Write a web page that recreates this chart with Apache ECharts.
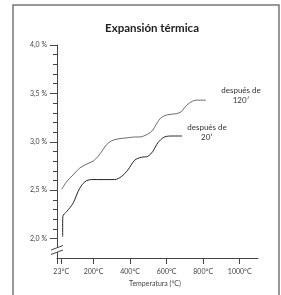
<!DOCTYPE html>
<html>
<head>
<meta charset="utf-8">
<script src="https://cdn.jsdelivr.net/npm/echarts@6/dist/echarts.min.js"></script>
<style>
  html, body { margin: 0; padding: 0; background: #fff; }
  #chart { width: 281px; height: 295px; }
</style>
</head>
<body>
<div id="chart"></div>
<script>
// temperatura (°C) / expansión (%)
const after120Temp = [26, 53, 89, 125, 162, 198, 225, 252, 271, 298, 334, 380, 425, 452, 497, 524, 543, 570, 606, 652, 679, 697, 724, 761, 815]
const after120Val = [2.51, 2.59, 2.66, 2.73, 2.77, 2.80, 2.85, 2.92, 2.97, 3.01, 3.03, 3.04, 3.05, 3.05, 3.08, 3.12, 3.18, 3.25, 3.28, 3.29, 3.31, 3.35, 3.40, 3.43, 3.43]
const after20Temp = [31, 31, 32, 53, 71, 89, 103, 116, 131, 143, 163, 189, 252, 316, 352, 388, 425, 461, 497, 524, 552, 588, 633, 684]
const after20Val = [2.02, 2.13, 2.23, 2.28, 2.32, 2.37, 2.43, 2.49, 2.54, 2.57, 2.60, 2.61, 2.61, 2.61, 2.64, 2.71, 2.81, 2.84, 2.85, 2.90, 2.99, 3.05, 3.06, 3.06]

const yMajor = [2.0, 2.5, 3.0, 3.5, 4.0]
const yMinor = [2.1, 2.2, 2.3, 2.4, 2.6, 2.7, 2.8, 2.9, 3.1, 3.2, 3.3, 3.4, 3.6, 3.7, 3.8, 3.9]
const xTicks = [0, 23, 200, 400, 600, 800, 1000]
const xLabels = [23, 200, 400, 600, 800, 1000]

const font = 'Lato'
const axisColor = '#444'

let chart = echarts.init(document.getElementById('chart'))

const zip = (a, b) => a.map((v, i) => [v, b[i]])

const option = {
    animation: false,
    title: {
        text: 'Expansión térmica',
        left: 147,
        top: 17,
        textAlign: 'center',
        textStyle: { fontFamily: font, fontSize: 11.5, fontWeight: 'bold', color: '#222' }
    },
    grid: { left: 57, top: 45, width: 201, height: 213 },
    xAxis: {
        type: 'value',
        min: 0,
        max: 1100,
        name: 'Temperatura (°C)',
        nameLocation: 'middle',
        nameGap: 18,
        nameTextStyle: { fontFamily: font, fontSize: 7, color: axisColor, padding: [0, 5, 0, 0] },
        axisLine: { show: true, lineStyle: { color: axisColor, width: 1 } },
        axisTick: { show: true, customValues: xTicks, length: 6, lineStyle: { color: axisColor } },
        axisLabel: {
            customValues: xLabels,
            margin: 10,
            fontFamily: font,
            fontSize: 7,
            color: axisColor,
            formatter: function (val) { return val + '°C' }
        },
        splitLine: { show: false }
    },
    yAxis: [{
        type: 'value',
        min: 1.8,
        max: 4.0,
        axisLine: { show: true, lineStyle: { color: axisColor, width: 1 } },
        axisTick: { show: true, customValues: yMajor, length: 7, lineStyle: { color: axisColor } },
        axisLabel: {
            customValues: yMajor,
            margin: 10,
            fontFamily: font,
            fontSize: 7,
            color: axisColor,
            formatter: function (val) { return val.toFixed(1).replace('.', ',') + ' %' }
        },
        splitLine: { show: false }
    }, {
        type: 'value',
        position: 'left',
        min: 1.8,
        max: 4.0,
        axisLine: { show: false },
        axisTick: { show: true, customValues: yMinor, length: 4, lineStyle: { color: axisColor } },
        axisLabel: { show: false },
        splitLine: { show: false }
    }],
    series: [{
        name: 'después de 120′',
        type: 'line',
        smooth: 0.3,
        symbol: 'none',
        lineStyle: { color: '#444', width: 0.8 },
        data: zip(after120Temp, after120Val)
    }, {
        name: 'después de 20′',
        type: 'line',
        smooth: 0.3,
        symbol: 'none',
        lineStyle: { color: '#222', width: 1 },
        data: zip(after20Temp, after20Val)
    }],
    graphic: [
        // marco
        { type: 'rect', shape: { x: 13, y: 5, width: 266, height: 300 }, style: { fill: 'none', stroke: '#777', lineWidth: 1.5 } },
        // corte del eje y
        { type: 'polygon', z: 100, shape: { points: [[51, 250], [63, 245.5], [63, 250], [51, 254.5]] }, style: { fill: '#fff' } },
        { type: 'line', z: 101, shape: { x1: 51, y1: 250, x2: 63, y2: 245.5 }, style: { stroke: axisColor, lineWidth: 1 } },
        { type: 'line', z: 101, shape: { x1: 51, y1: 254.5, x2: 63, y2: 250 }, style: { stroke: axisColor, lineWidth: 1 } },
        {
            type: 'text', x: 241, y: 85,
            style: { text: 'después de\n120′', align: 'center', verticalAlign: 'top', fontFamily: font, fontSize: 8, lineHeight: 10, fill: '#333' }
        },
        {
            type: 'text', x: 207, y: 122,
            style: { text: 'después de\n20′', align: 'center', verticalAlign: 'top', fontFamily: font, fontSize: 8, lineHeight: 10, fill: '#333' }
        }
    ]
}

chart.setOption(option)
</script>
</body>
</html>
